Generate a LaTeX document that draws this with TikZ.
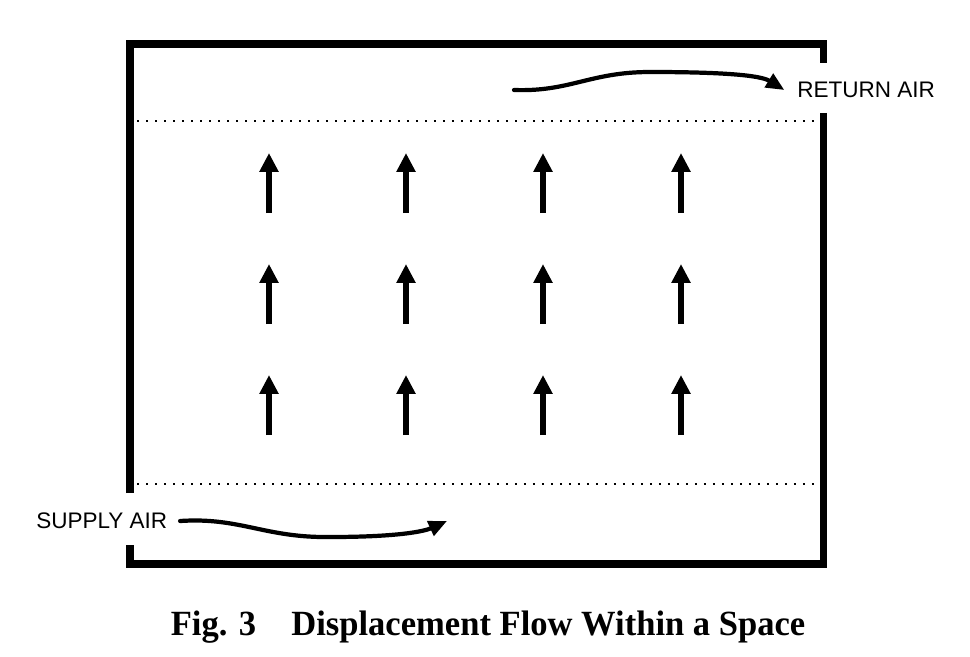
\documentclass[tikz,border=0pt]{standalone}
\usepackage{fontspec}
\setmainfont{Liberation Serif}
\newfontfamily\labelfont{Liberation Sans}
\newfontfamily\captionfont[FakeStretch=0.975]{Liberation Serif}
\usetikzlibrary{arrows.meta}

\tikzset{
  wall/.style={line width=5pt, line join=miter},
  level/.style={line width=1.3pt, dash pattern=on 1.3pt off 5.1pt},
  rise/.style={line width=3.6pt, -{Triangle[width=13pt,length=13.5pt]}},
  stream/.style={line width=3pt, line cap=round, -{Triangle[width=11pt,length=13pt]}},
  airlabel/.style={font=\labelfont\fontsize{16}{19}\selectfont, inner sep=0pt}
}

\begin{document}
\begin{tikzpicture}[x=0.025cm, y=-0.025cm]
  \useasboundingbox (0,0) rectangle (970,656);

  % Walls of the space, with the two openings
  \draw[wall] (130,493) -- (130,44) -- (823,44) -- (823,63);
  \draw[wall] (823,113) -- (823,564) -- (130,564) -- (130,545);

  % Dotted levels
  \draw[level] (137,121) -- (815,121);
  \draw[level] (137,484) -- (815,484);

  % Upward displacement flow
  \foreach \x in {269,406,543,681}
    \foreach \y in {153,264,375}
      \draw[rise] (\x,\y+60) -- (\x,\y);

  % Supply and return
  \node[airlabel, anchor=west] (supply) at (36,521) {SUPPLY AIR};
  \node[airlabel, anchor=west] (return) at (797,90) {RETURN AIR};
  \coordinate (supplyend) at (447,521);
  \coordinate (returnstart) at (514,90);

  \draw[stream] ([xshift=9pt]supply.east) .. controls (240,517) and (265,538) .. (330,537)
    .. controls (400,537) and (425,531) .. (supplyend);
  \draw[stream] (returnstart) .. controls (570,92) and (590,72) .. (650,72)
    .. controls (720,72) and (760,75) .. ([xshift=-9pt]return.west);

  % Caption
  \node[font=\captionfont\fontsize{25.2}{30}\selectfont\bfseries] (caption) at (488,627)
    {Fig. 3\hspace{0.75em} Displacement Flow Within a Space};
\end{tikzpicture}
\end{document}
